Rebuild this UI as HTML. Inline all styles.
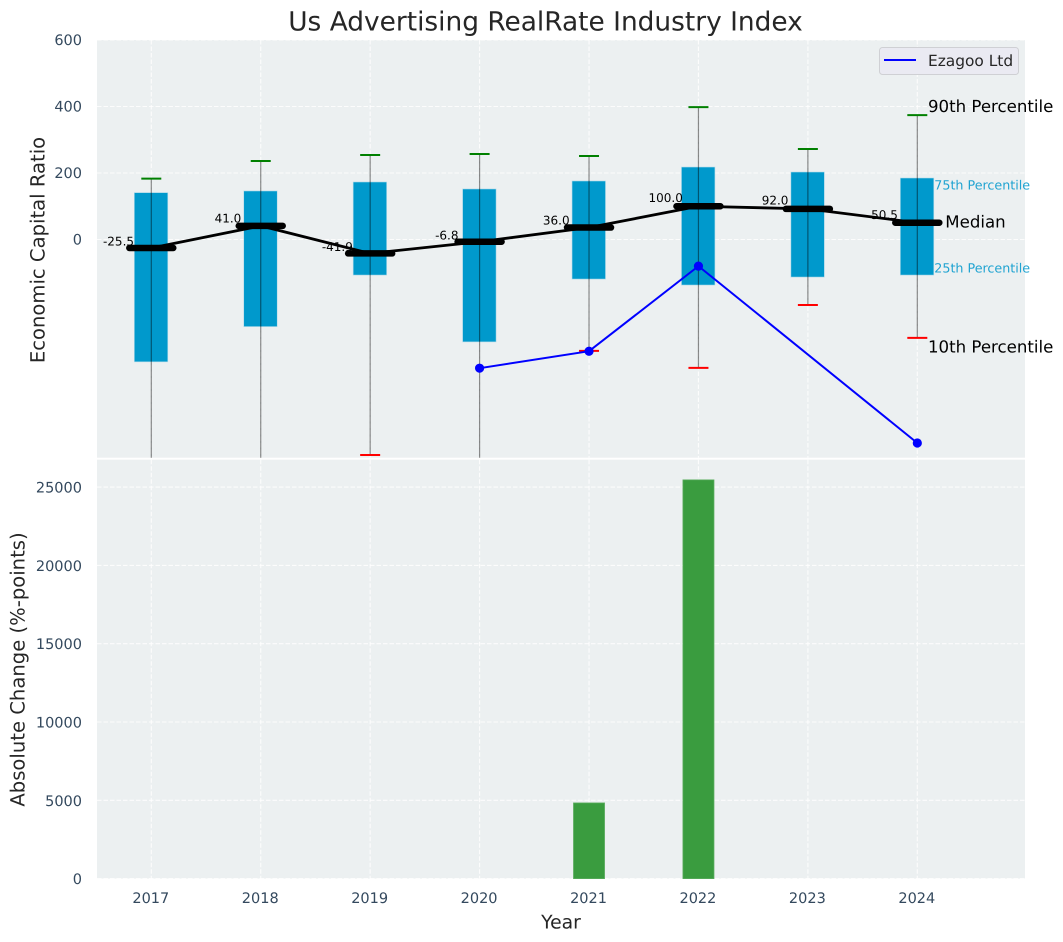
<!DOCTYPE html>
<html>
<head>
<meta charset="utf-8">
<title>Us Advertising RealRate Industry Index</title>
<style>
html,body{margin:0;padding:0;background:#fff;width:1063px;height:942px;overflow:hidden}
svg{display:block;font-family:"DejaVu Sans","Liberation Sans",sans-serif;text-rendering:geometricPrecision}
</style>
</head>
<body>
<svg id="chart" width="1063" height="942" viewBox="0 0 1063 942" xmlns="http://www.w3.org/2000/svg">
  <defs>
    <clipPath id="top-clip"><rect x="97" y="40" width="928" height="417.7"/></clipPath>
  </defs>
  <text x="545.5" y="22" font-size="26.4" fill="#262626" text-anchor="middle" dominant-baseline="central">Us Advertising RealRate Industry Index</text>
  <rect x="97" y="40" width="928" height="417.7" fill="#ecf0f1"/>
  <rect x="97" y="459.7" width="928" height="418.9" fill="#ecf0f1"/>
  <g id="grid"></g>
  <g id="top-marks" clip-path="url(#top-clip)"></g>
  <g id="bottom-marks"></g>
  <g id="axes"></g>
  <g id="notes"></g>
  <text x="561" y="923" font-size="18.8" fill="#262626" text-anchor="middle" dominant-baseline="central">Year</text>
  <text transform="translate(38 250) rotate(-90)" font-size="19.6" fill="#262626" text-anchor="middle" dominant-baseline="central">Economic Capital Ratio</text>
  <text transform="translate(18 669.5) rotate(-90)" font-size="19.6" fill="#262626" text-anchor="middle" dominant-baseline="central">Absolute Change (%-points)</text>
  <g>
    <rect x="879.5" y="47.5" width="139" height="27" rx="3" fill="#eaeaf2" stroke="#cfd0d4" stroke-width="1"/>
    <line x1="884" y1="60" x2="916" y2="60" stroke="#0000ff" stroke-width="2"/>
    <text x="928" y="61" font-size="15.4" fill="#262626" dominant-baseline="central">Ezagoo Ltd</text>
  </g>
</svg>
<script>
const years = [2017, 2018, 2019, 2020, 2021, 2022, 2023, 2024];
const p90 = [183, 236, 254, 257, 251, 398, 272, 374];
const p75 = [141, 146, 173, 152, 176, 218, 203, 185];
const medians = [-25.5, 41.0, -41.9, -6.8, 36.0, 100.0, 92.0, 50.5];
const medianLabels = ['-25.5', '41.0', '-41.9', '-6.8', '36.0', '100.0', '92.0', '50.5'];
const p25 = [-368, -262, -107, -308, -119, -137, -113, -107];
const p10 = [-720, -800, -648, -700, -335, -386, -197, -296];
const ezagoo = [null, null, null, -387, -336, -80, null, -612];
const absoluteChange = [0, 0, 0, 0, 4830, 25460, 0, 0];
const topTicks = [0, 200, 400, 600];
const bottomTicks = [0, 5000, 10000, 15000, 20000, 25000];

const NS = 'http://www.w3.org/2000/svg';
const xScale = v => 151.3 + (v - 2017) * 109.43;
const yTop = v => 239.5 - v * 0.3325;
const yBottom = v => 878.6 - v * 0.01566;
const gridG = document.getElementById('grid');
const topG = document.getElementById('top-marks');
const botG = document.getElementById('bottom-marks');
const axesG = document.getElementById('axes');
const notesG = document.getElementById('notes');
function mk(tag, attrs, parent, txt) {
  const el = document.createElementNS(NS, tag);
  for (const k in attrs) el.setAttribute(k, attrs[k]);
  if (txt !== undefined) el.textContent = txt;
  parent.appendChild(el);
  return el;
}
const gridStyle = {stroke: '#ffffff', 'stroke-width': 1.1, 'stroke-dasharray': '4.5 2', opacity: 0.85};

years.forEach(y => {
  const a = mk('line', Object.assign({x1: xScale(y), x2: xScale(y), y1: 40, y2: 457.7}, gridStyle), gridG);
  
  
  const b = mk('line', Object.assign({x1: xScale(y), x2: xScale(y), y1: 459.7, y2: 878.6}, gridStyle), gridG);
  
  
  const t = mk('text', {x: xScale(y) - 0.5, y: 899, 'font-size': 14.5, fill: '#34495e', 'text-anchor': 'middle', 'dominant-baseline': 'central'}, axesG, String(y));
  
  
});
topTicks.forEach(v => {
  const g = mk('line', Object.assign({x1: 97, x2: 1025, y1: yTop(v), y2: yTop(v)}, gridStyle), gridG);
  
  
  const t = mk('text', {x: 82, y: yTop(v) + 1, 'font-size': 14.5, fill: '#34495e', 'text-anchor': 'end', 'dominant-baseline': 'central'}, axesG, String(v));
  
  
});
bottomTicks.forEach(v => {
  const g = mk('line', Object.assign({x1: 97, x2: 1025, y1: yBottom(v), y2: yBottom(v)}, gridStyle), gridG);
  
  
  const t = mk('text', {x: 82, y: yBottom(v) + 1.5, 'font-size': 14.5, fill: '#34495e', 'text-anchor': 'end', 'dominant-baseline': 'central'}, axesG, String(v));
  
  
});

years.forEach((y, i) => {
  const cx = xScale(y);
  const box = mk('rect', {x: cx - 17, y: yTop(p75[i]), width: 33.5, height: yTop(p25[i]) - yTop(p75[i]), fill: '#0099cc', stroke: '#b5dcea', 'stroke-width': 0.6}, topG);
  
  
  const whisk = mk('line', {x1: cx, x2: cx, y1: yTop(p90[i]), y2: yTop(p10[i]), stroke: '#000000', 'stroke-opacity': 0.45, 'stroke-width': 1.2}, topG);
  
  
  const capHi = mk('line', {x1: cx - 10, x2: cx + 10, y1: yTop(p90[i]), y2: yTop(p90[i]), stroke: '#008000', 'stroke-width': 2}, topG);
  
  
  const capLo = mk('line', {x1: cx - 10, x2: cx + 10, y1: yTop(p10[i]), y2: yTop(p10[i]), stroke: '#ff0000', 'stroke-width': 2}, topG);
  
  
  const lab = mk('text', {x: cx - 32.8, y: yTop(medians[i]) - 6.5 - Math.max(0, medians[i]) * 0.02, 'font-size': 12, fill: '#000', 'text-anchor': 'middle', 'dominant-baseline': 'central'}, topG, medianLabels[i]);
  
  
});

const medianLine = mk('polyline', {points: years.map((y, i) => xScale(y) + ',' + yTop(medians[i])).join(' '), fill: 'none', stroke: '#000', 'stroke-width': 2.8}, topG);


years.forEach((y, i) => {
  const m = mk('line', {x1: xScale(y) - 22, x2: xScale(y) + 22, y1: yTop(medians[i]), y2: yTop(medians[i]), stroke: '#000', 'stroke-width': 6.5, 'stroke-linecap': 'round'}, topG);
  
  
});

const ezPts = years.map((y, i) => ezagoo[i] === null ? null : [xScale(y), yTop(ezagoo[i])]).filter(Boolean);
const ezLine = mk('polyline', {points: ezPts.map(p => p.join(',')).join(' '), fill: 'none', stroke: '#0000ff', 'stroke-width': 2}, topG);


years.forEach((y, i) => {
  if (ezagoo[i] === null) return;
  const c = mk('circle', {cx: xScale(y), cy: yTop(ezagoo[i]), r: 4.6, fill: '#0000ff'}, topG);
  
  
});

years.forEach((y, i) => {
  if (!absoluteChange[i]) return;
  const top = yBottom(absoluteChange[i]);
  const b = mk('rect', {x: xScale(y) - 15.5, y: top, width: 31, height: 878.6 - top, fill: '#3a9c3f', stroke: '#58ab5c', 'stroke-width': 0.8}, botG);
  
  
});

const last = years.length - 1;
const lastX = xScale(years[last]);
const n90 = mk('text', {x: lastX + 10.7, y: yTop(p90[last]) - 8.5, 'font-size': 16.6, fill: '#000', 'dominant-baseline': 'central'}, notesG, '90th Percentile');


const n75 = mk('text', {x: lastX + 17, y: yTop(p75[last]) + 7, 'font-size': 12.7, fill: '#1fa3d1', 'dominant-baseline': 'central'}, notesG, '75th Percentile');


const nMed = mk('text', {x: lastX + 28, y: yTop(medians[last]) - 0.5, 'font-size': 16.6, fill: '#000', 'dominant-baseline': 'central'}, notesG, 'Median');


const n25 = mk('text', {x: lastX + 17, y: yTop(p25[last]) - 7, 'font-size': 12.7, fill: '#1fa3d1', 'dominant-baseline': 'central'}, notesG, '25th Percentile');


const n10 = mk('text', {x: lastX + 10.7, y: yTop(p10[last]) + 9.3, 'font-size': 16.6, fill: '#000', 'dominant-baseline': 'central'}, notesG, '10th Percentile');


</script>
</body>
</html>
